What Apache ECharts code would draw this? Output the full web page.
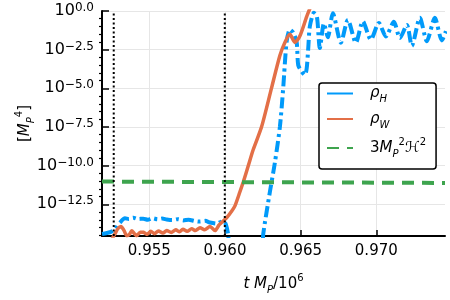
<!DOCTYPE html>
<html>
<head>
<meta charset="utf-8">
<script src="https://cdn.jsdelivr.net/npm/echarts@6/dist/echarts.min.js"></script>
<style>
  html, body { margin: 0; padding: 0; background: #fff; }
  #main { width: 450px; height: 300px; }
</style>
</head>
<body>
<div id="main"></div>
<script>
// values, y is log10 of the energy density in M_P^4
const tRhoH = [0.95188, 0.95240, 0.95262, 0.95285, 0.95306, 0.95339, 0.95365, 0.95394, 0.95425, 0.95460,
  0.95490, 0.95520, 0.95555, 0.95585, 0.95615, 0.95650, 0.95690, 0.95725, 0.95760, 0.95800,
  0.95835, 0.95870, 0.95901, 0.95945, 0.95970, 0.95989, 0.96006, 0.96022, 0.96030, 0.96240,
  0.96253, 0.96297, 0.96330, 0.96363, 0.96385, 0.96407, 0.96429, 0.96451, 0.96474, 0.96484,
  0.96507, 0.96528, 0.96540, 0.96550, 0.96561, 0.96588, 0.96608, 0.96627, 0.96654, 0.96680,
  0.96713, 0.96766, 0.96812, 0.96865, 0.96911, 0.96964, 0.97017, 0.97063, 0.97116, 0.97156,
  0.97202, 0.97235, 0.97288, 0.97334, 0.97387, 0.97433, 0.97460];
const logRhoH = [-14.42, -14.31, -14.21, -13.95, -13.68, -13.41, -13.45, -13.37, -13.45, -13.43,
  -13.50, -13.40, -13.47, -13.42, -13.48, -13.52, -13.46, -13.54, -13.50, -13.58,
  -13.62, -13.57, -13.68, -13.75, -13.65, -13.58, -13.80, -14.53, -16.00, -16.00,
  -14.42, -11.69, -9.80, -7.49, -4.97, -2.03, -1.20, -1.40, -2.03, -3.50,
  -3.92, -4.14, -3.72, -2.46, -0.99, -0.12, -0.40, -2.40, -0.80, -1.70,
  -0.15, -2.05, -0.57, -2.05, -0.67, -1.85, -0.77, -1.65, -0.70, -1.75,
  -0.90, -2.25, -0.44, -1.95, -0.44, -1.90, -1.30];

// rho_W leaves the top of the plot after the last point
const tRhoW = [0.95250, 0.95273, 0.95292, 0.95313, 0.95333, 0.95351, 0.95368, 0.95384, 0.95400, 0.95417,
  0.95440, 0.95462, 0.95485, 0.95510, 0.95535, 0.95560, 0.95590, 0.95615, 0.95645, 0.95675,
  0.95700, 0.95722, 0.95750, 0.95780, 0.95805, 0.95835, 0.95865, 0.95901, 0.95934, 0.95960,
  0.95978, 0.96011, 0.96044, 0.96066, 0.96099, 0.96121, 0.96154, 0.96187, 0.96242, 0.96308,
  0.96363, 0.96396, 0.96429, 0.96462, 0.96495, 0.96540, 0.96566];
const logRhoW = [-14.80, -14.42, -14.08, -13.94, -14.20, -14.53, -14.45, -14.21, -14.38, -14.53,
  -14.30, -14.31, -14.45, -14.25, -14.40, -14.22, -14.36, -14.20, -14.32, -14.15,
  -14.28, -14.12, -14.25, -14.08, -14.20, -14.02, -14.15, -13.93, -14.20, -13.85,
  -13.68, -13.37, -12.95, -12.60, -11.69, -11.06, -10.01, -8.96, -7.49, -4.97,
  -2.88, -2.03, -1.51, -2.03, -1.62, -0.36, 0.27];

const tHubble = [0.951875, 0.97454];
const logHubble = [-11.03, -11.12];

const vLines = [0.95265, 0.95999];

const xTicks = [0.955, 0.960, 0.965, 0.970];
const yTicks = [-12.5, -10, -7.5, -5, -2.5, 0];
const yMinorTicks = [-14.5, -14, -13.5, -13, -12, -11.5, -11, -10.5, -9.5, -9, -8.5, -8,
  -7, -6.5, -6, -5.5, -4.5, -4, -3.5, -3, -2, -1.5, -1, -0.5];

const X_MIN = 0.951875, X_MAX = 0.97454, Y_MIN = -14.55, Y_MAX = 0;
const FONT = 'DejaVu Sans';
const BLUE = '#009AFA', ORANGE = '#E36F47', GREEN = '#3EA44E';

const zip = (xs, ys) => xs.map((x, i) => [x, ys[i]]);

const richText = {
  n: { fontFamily: FONT, fontSize: 15, lineHeight: 22, color: '#000' },
  i: { fontFamily: FONT, fontSize: 15, lineHeight: 22, fontStyle: 'italic', color: '#000' },
  sub: { fontFamily: FONT, fontSize: 10, lineHeight: 15, verticalAlign: 'bottom', fontStyle: 'italic', color: '#000' },
  sup: { fontFamily: FONT, fontSize: 10, lineHeight: 19, verticalAlign: 'top', color: '#000' }
};

const legendLabels = {
  'ρH': '{i|ρ}{sub|H}',
  'ρW': '{i|ρ}{sub|W}',
  'hubble': '{n|3}{i|M}{sub|P}{sup|2}{i|ℋ}{sup|2}'
};

var myChart = echarts.init(document.getElementById('main'));

// dotted vertical markers, one small series each
const vLineSeries = vLines.map((x, k) => ({
  name: 'vline' + k,
  type: 'line',
  data: [[x, Y_MIN], [x, Y_MAX]],
  symbol: 'none',
  silent: true,
  z: 5,
  lineStyle: { color: '#000', width: 2, type: [2, 2.5] }
}));

const option = {
  animation: false,
  backgroundColor: '#fff',
  grid: { left: 102, right: 5, top: 11, bottom: 58 },
  xAxis: {
    type: 'value',
    min: X_MIN,
    max: X_MAX,
    name: '{i|t}{n| }{i|M}{sub|P}{n|/10}{sup|6}',
    nameLocation: 'middle',
    nameGap: 37,
    nameTextStyle: { rich: richText },
    axisLine: { onZero: false, lineStyle: { color: '#000', width: 2 } },
    axisTick: { customValues: xTicks, inside: true, length: 6, lineStyle: { color: '#000', width: 1.5 } },
    axisLabel: {
      customValues: xTicks,
      formatter: v => v.toFixed(3),
      fontFamily: FONT, fontSize: 15, color: '#000', margin: 8
    },
    splitLine: { show: true, lineStyle: { color: '#e6e6e6', width: 1 } }
  },
  yAxis: [{
    type: 'value',
    min: Y_MIN,
    max: Y_MAX,
    name: '{n|[}{i|M}{sub|P}{sup|4}{n|]}',
    nameLocation: 'middle',
    nameRotate: 90,
    nameGap: 66,
    nameMoveOverlap: false,
    nameTextStyle: { rich: richText },
    axisLine: { onZero: false, lineStyle: { color: '#000', width: 2 } },
    axisTick: { customValues: yTicks, inside: true, length: 7, lineStyle: { color: '#000', width: 1.5 } },
    axisLabel: {
      customValues: yTicks,
      margin: 8,
      formatter: v => '{b|10}{s|' + v.toFixed(1).replace('-', '\u2212') + '}',
      rich: {
        b: { fontFamily: FONT, fontSize: 16, lineHeight: 18, color: '#000' },
        s: { fontFamily: FONT, fontSize: 12, lineHeight: 12, verticalAlign: 'top', color: '#000' }
      }
    },
    splitLine: { show: true, lineStyle: { color: '#e6e6e6', width: 1 } }
  }, {
    type: 'value',
    min: Y_MIN,
    max: Y_MAX,
    position: 'left',
    axisLine: { show: false, onZero: false },
    axisTick: { customValues: yMinorTicks, inside: false, length: 3, lineStyle: { color: '#000', width: 1.2 } },
    axisLabel: { show: false },
    splitLine: { show: false }
  }],
  legend: {
    orient: 'vertical',
    left: 319,
    top: 83,
    padding: [3, 10, 10, 7],
    backgroundColor: '#fff',
    borderColor: '#000',
    borderWidth: 1.5,
    borderRadius: 3,
    itemWidth: 26,
    itemHeight: 14,
    itemGap: 7,
    itemStyle: { opacity: 0 },
    formatter: name => legendLabels[name],
    textStyle: { padding: [0, 0, 0, 12], rich: richText },
    data: [
      { name: 'ρH', lineStyle: { type: 'solid' } },
      { name: 'ρW' },
      { name: 'hubble' }
    ]
  },
  series: [
    {
      name: 'ρH',
      type: 'line',
      data: zip(tRhoH, logRhoH),
      symbol: 'none',
      smooth: 0.25,
      clip: true,
      z: 3,
      lineStyle: { color: BLUE, width: 4, type: [11, 4, 3, 4] },
      itemStyle: { color: BLUE }
    },
    {
      name: 'ρW',
      type: 'line',
      data: zip(tRhoW, logRhoW),
      symbol: 'none',
      smooth: 0.25,
      clip: true,
      z: 3,
      lineStyle: { color: ORANGE, width: 3.5 },
      itemStyle: { color: ORANGE }
    },
    {
      name: 'hubble',
      type: 'line',
      data: zip(tHubble, logHubble),
      symbol: 'none',
      z: 3,
      lineStyle: { color: GREEN, width: 4, type: [12, 8] },
      itemStyle: { color: GREEN }
    }
  ].concat(vLineSeries)
};

myChart.setOption(option);
</script>
</body>
</html>
